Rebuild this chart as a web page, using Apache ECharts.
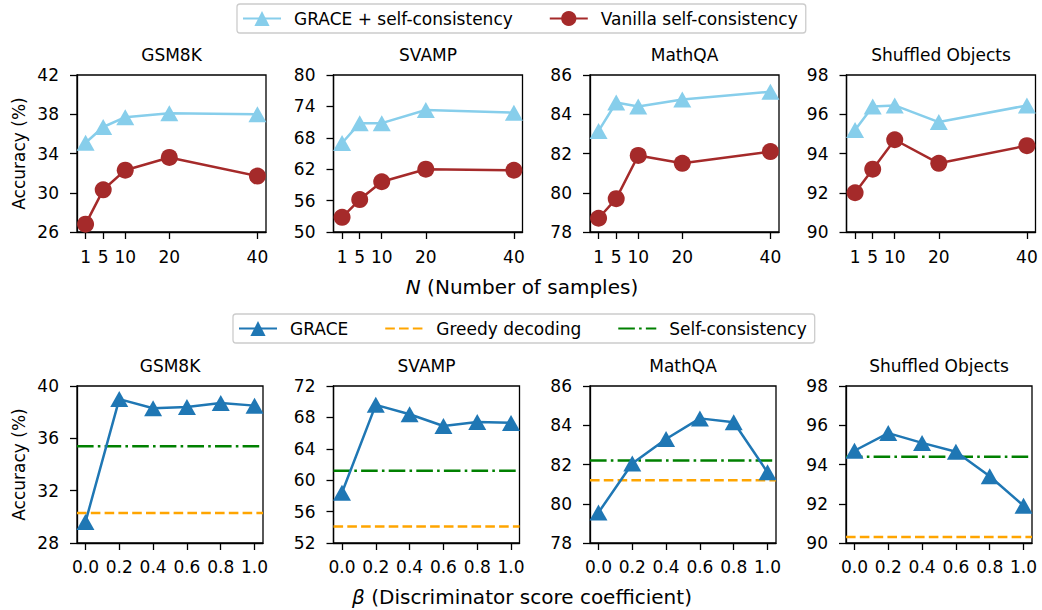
<!DOCTYPE html>
<html><head><meta charset="utf-8">
<script src="https://cdn.jsdelivr.net/npm/echarts@6/dist/echarts.min.js"></script>
<style>html,body{margin:0;padding:0;background:#fff}#c{width:1042px;height:610px}</style>
</head><body><div id="c"></div>
<script>
// ---------- data ----------
const datasets = ['GSM8K', 'SVAMP', 'MathQA', 'Shuffled Objects'];
const nSamples = [1, 5, 10, 20, 40];
const graceSelfConsistency = [
  [35.1, 36.7, 37.7, 38.1, 38.0],
  [67.0, 70.8, 70.8, 73.3, 72.8],
  [83.15, 84.6, 84.4, 84.75, 85.15],
  [95.2, 96.4, 96.45, 95.6, 96.45]
];
const vanillaSelfConsistency = [
  [26.8, 30.3, 32.3, 33.6, 31.7],
  [52.8, 56.2, 59.6, 62.0, 61.8],
  [78.7, 79.7, 81.9, 81.5, 82.1],
  [92.0, 93.2, 94.7, 93.5, 94.4]
];
const betaValues = [0.0, 0.2, 0.4, 0.6, 0.8, 1.0];
const graceBeta = [
  [29.6, 39.0, 38.3, 38.4, 38.7, 38.5],
  [58.4, 69.6, 68.4, 66.9, 67.4, 67.3],
  [79.55, 82.05, 83.3, 84.35, 84.15, 81.6],
  [94.7, 95.6, 95.1, 94.65, 93.4, 91.9]
];
const greedyDecoding = [30.3, 54.1, 81.2, 90.3];
const selfConsistency = [35.4, 61.2, 82.2, 94.4];
const yTicksTop = [
  [26, 30, 34, 38, 42],
  [50, 56, 62, 68, 74, 80],
  [78, 80, 82, 84, 86],
  [90, 92, 94, 96, 98]
];
const yTicksBottom = [
  [28, 32, 36, 40],
  [52, 56, 60, 64, 68, 72],
  [78, 80, 82, 84, 86],
  [90, 92, 94, 96, 98]
];
const topXLimits = [-0.95, 41.95];
const botXLimits = [-0.05, 1.05];

// ---------- layout / style ----------
const FONT = 'DejaVu Sans';
const FS = 17;
const topLefts = [77, 333.5, 590, 846.5];
const botLefts = [77, 333.5, 590, 846];
const TOP_Y = 75, BOT_Y = 386, H = 157, TOP_W = 189, BOT_W = 186;
const C_SKY = '#87CEEB', C_BROWN = '#A52A2A', C_BLUE = '#1f77b4', C_ORANGE = '#FFA500', C_GREEN = '#008000';

const grids = [], xAxes = [], yAxes = [], series = [], graphics = [];

function axisCommon(ticks, fmt, margin) {
  return {
    axisLine: {show: true, onZero: false, lineStyle: {color: '#000', width: 1.3}},
    axisTick: {show: true, length: 7, customValues: ticks, lineStyle: {color: '#000', width: 1.3}},
    axisLabel: {customValues: ticks, margin: margin, color: '#000', fontSize: FS, fontFamily: FONT, formatter: fmt},
    splitLine: {show: false}
  };
}

for (let i = 0; i < 4; i++) {
  // top row
  const gTop = grids.length;
  grids.push({left: topLefts[i], top: TOP_Y, width: TOP_W, height: H, show: true, borderColor: '#000', borderWidth: 1.3, containLabel: false});
  xAxes.push(Object.assign({gridIndex: gTop, type: 'value', min: topXLimits[0], max: topXLimits[1]},
    axisCommon(nSamples, v => String(v), 16)));
  const yt = yTicksTop[i];
  yAxes.push(Object.assign({gridIndex: gTop, type: 'value', min: yt[0], max: yt[yt.length - 1]},
    axisCommon(yt, v => String(v), 18)));
  series.push({
    name: 'GRACE + self-consistency', type: 'line', xAxisIndex: gTop, yAxisIndex: gTop,
    data: nSamples.map((n, k) => [n, graceSelfConsistency[i][k]]),
    symbol: 'triangle', symbolSize: [18, 16], lineStyle: {color: C_SKY, width: 2.5},
    itemStyle: {color: C_SKY}, z: 3
  });
  series.push({
    name: 'Vanilla self-consistency', type: 'line', xAxisIndex: gTop, yAxisIndex: gTop,
    data: nSamples.map((n, k) => [n, vanillaSelfConsistency[i][k]]),
    symbol: 'circle', symbolSize: 17, lineStyle: {color: C_BROWN, width: 2.5},
    itemStyle: {color: C_BROWN}, z: 3
  });
  graphics.push({type: 'text', x: topLefts[i] + TOP_W / 2, y: 55,
    style: {text: datasets[i], fill: '#000', fontSize: FS, fontFamily: FONT, align: 'center', verticalAlign: 'middle'}});

  // bottom row
  const gBot = grids.length;
  grids.push({left: botLefts[i], top: BOT_Y, width: BOT_W, height: H, show: true, borderColor: '#000', borderWidth: 1.3, containLabel: false});
  xAxes.push(Object.assign({gridIndex: gBot, type: 'value', min: botXLimits[0], max: botXLimits[1]},
    axisCommon(betaValues, v => v.toFixed(1), 15)));
  const yb = yTicksBottom[i];
  yAxes.push(Object.assign({gridIndex: gBot, type: 'value', min: yb[0], max: yb[yb.length - 1]},
    axisCommon(yb, v => String(v), 18)));
  series.push({
    name: 'GRACE', type: 'line', xAxisIndex: gBot, yAxisIndex: gBot,
    data: betaValues.map((b, k) => [b, graceBeta[i][k]]),
    symbol: 'triangle', symbolSize: [18, 16], lineStyle: {color: C_BLUE, width: 2.5},
    itemStyle: {color: C_BLUE}, z: 3
  });
  series.push({
    name: 'Greedy decoding', type: 'line', xAxisIndex: gBot, yAxisIndex: gBot,
    data: [[botXLimits[0], greedyDecoding[i]], [botXLimits[1], greedyDecoding[i]]],
    symbol: 'none', showSymbol: false, lineStyle: {color: C_ORANGE, width: 2.5, type: [9.6, 4.2]},
    itemStyle: {color: C_ORANGE}, z: 2
  });
  series.push({
    name: 'Self-consistency', type: 'line', xAxisIndex: gBot, yAxisIndex: gBot,
    data: [[botXLimits[0], selfConsistency[i]], [botXLimits[1], selfConsistency[i]]],
    symbol: 'none', showSymbol: false, lineStyle: {color: C_GREEN, width: 2.5, type: [16.6, 4.2, 2.6, 4.2]},
    itemStyle: {color: C_GREEN}, z: 2
  });
  graphics.push({type: 'text', x: botLefts[i] + BOT_W / 2, y: 366,
    style: {text: datasets[i], fill: '#000', fontSize: FS, fontFamily: FONT, align: 'center', verticalAlign: 'middle'}});
}

// axis titles
graphics.push({type: 'text', x: 19, y: TOP_Y + H / 2, rotation: Math.PI / 2,
  style: {text: 'Accuracy (%)', fill: '#000', fontSize: FS, fontFamily: FONT, align: 'center', verticalAlign: 'middle'}});
graphics.push({type: 'text', x: 19, y: BOT_Y + H / 2, rotation: Math.PI / 2,
  style: {text: 'Accuracy (%)', fill: '#000', fontSize: FS, fontFamily: FONT, align: 'center', verticalAlign: 'middle'}});
graphics.push({type: 'text', x: 522, y: 287,
  style: {text: '{i|N} (Number of samples)', fill: '#000', fontSize: 20, fontFamily: FONT, align: 'center', verticalAlign: 'middle',
    rich: {i: {fontStyle: 'italic', fontSize: 20, fontFamily: FONT, fill: '#000'}}}});
graphics.push({type: 'text', x: 522, y: 597,
  style: {text: '{i|β} (Discriminator score coefficient)', fill: '#000', fontSize: 20, fontFamily: FONT, align: 'center', verticalAlign: 'middle',
    rich: {i: {fontStyle: 'italic', fontSize: 20, fontFamily: FONT, fill: '#000'}}}});

const legendCommon = {
  orient: 'horizontal', itemWidth: 38, itemHeight: 19, itemGap: 36, selectedMode: false,
  borderColor: '#cccccc', borderWidth: 1.3, borderRadius: 3, backgroundColor: '#fff',
  padding: [6, 8, 6, 5],
  formatter: name => '{t|' + name + '}',
  textStyle: {color: '#000', fontSize: FS, fontFamily: FONT,
    rich: {t: {padding: [0, 0, 0, 8], color: '#000', fontSize: FS, fontFamily: FONT}}}
};
const noSymbol = {color: 'rgba(0,0,0,0)', borderWidth: 0, opacity: 0};

const option = {
  animation: false,
  backgroundColor: '#fff',
  textStyle: {fontFamily: FONT},
  grid: grids,
  xAxis: xAxes,
  yAxis: yAxes,
  series: series,
  legend: [
    Object.assign({}, legendCommon, {data: ['GRACE + self-consistency', 'Vanilla self-consistency'], left: 237, top: 4}),
    Object.assign({}, legendCommon, {data: [
      'GRACE',
      {name: 'Greedy decoding', itemStyle: noSymbol},
      {name: 'Self-consistency', itemStyle: noSymbol}
    ], left: 233, top: 314})
  ],
  graphic: graphics
};

const chart = echarts.init(document.getElementById('c'), null, {renderer: 'svg', width: 1042, height: 610});
chart.setOption(option);
</script>
</body></html>
